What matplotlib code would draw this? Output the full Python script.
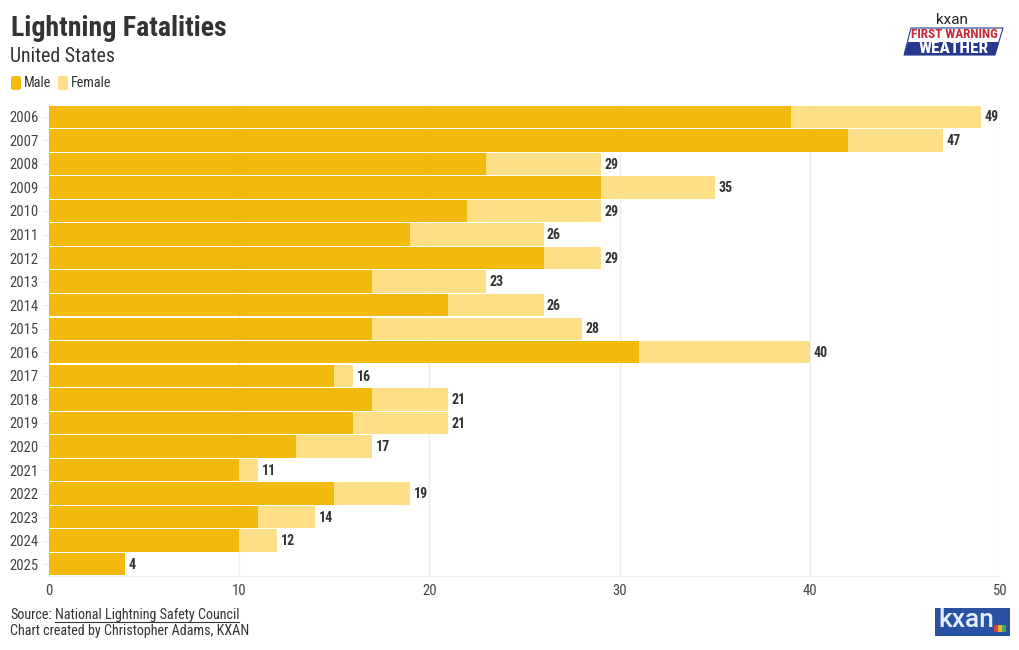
import matplotlib
matplotlib.use('Agg')
import matplotlib.pyplot as plt
from matplotlib.lines import Line2D
from matplotlib.patches import FancyBboxPatch, Polygon, Rectangle

years = ['2006', '2007', '2008', '2009', '2010', '2011', '2012', '2013', '2014', '2015',
         '2016', '2017', '2018', '2019', '2020', '2021', '2022', '2023', '2024', '2025']
male = [39, 42, 23, 29, 22, 19, 26, 17, 21, 17, 31, 15, 17, 16, 13, 10, 15, 11, 10, 4]
female = [10, 5, 6, 6, 7, 7, 3, 6, 5, 11, 9, 1, 4, 5, 4, 1, 4, 3, 2, 0]
totals = [49, 47, 29, 35, 29, 26, 29, 23, 26, 28, 40, 16, 21, 21, 17, 11, 19, 14, 12, 4]
x_ticks = [0, 10, 20, 30, 40, 50]

male_color = '#f2b90f'
female_color = '#fedf85'
text_color = '#333333'
grid_color = '#eeeeee'
kxan_blue = '#2a52a4'
W, H = 1020, 650

plt.rcParams['font.family'] = ['Roboto Condensed', 'Roboto', 'DejaVu Sans']

fig = plt.figure(figsize=(W / 100, H / 100), dpi=100, facecolor='white')


def px(x, y):
    # pixel position measured from the top left of the picture
    return x / W, 1 - y / H


left, top = px(49, 105)
right, bottom = px(1000, 576)
ax = fig.add_axes([left, bottom, right - left, top - bottom])

pos = list(range(len(years)))
ax.barh(pos, male, height=0.95, color=male_color, zorder=2)
ax.barh(pos, female, left=male, height=0.95, color=female_color, zorder=2)

for p, t in zip(pos, totals):
    ax.annotate(str(t), (t, p), xytext=(2.5, -0.5), textcoords='offset points', va='center',
                fontsize=10, fontweight='bold', color=text_color)

ax.set_xlim(0, 50)
ax.set_ylim(len(years) - 0.5, -0.5)
ax.set_xticks(x_ticks)
ax.set_yticks(pos)
ax.set_yticklabels(years)
ax.tick_params(axis='x', length=0, pad=6, labelsize=10.5, labelcolor='#444444')
ax.tick_params(axis='y', length=5, width=0.8, color=grid_color, pad=2.5, labelsize=10.5, labelcolor='#444444')
ax.grid(axis='x', color=grid_color, linewidth=1, zorder=0)
ax.set_axisbelow(True)
for side in ['top', 'right', 'left']:
    ax.spines[side].set_visible(False)
ax.spines['bottom'].set_color(grid_color)

# header
x, y = px(11, 29)
fig.text(x, y, 'Lightning Fatalities', fontsize=20.1, fontweight='bold', color=text_color, va='center')
x, y = px(10.5, 56.5)
fig.text(x, y, 'United States', fontsize=14.3, color=text_color, va='center')

# legend swatches and names
for sx, name, col, tx in [(11, 'Male', male_color, 24), (58, 'Female', female_color, 71)]:
    x0, y0 = px(sx, 90)
    fig.add_artist(FancyBboxPatch((x0, y0), 10 / W, 14 / H, boxstyle='round,pad=0,rounding_size=0.003',
                                  transform=fig.transFigure, facecolor=col, edgecolor='none'))
    x, y = px(tx, 83)
    fig.text(x, y, name, fontsize=10.2, color=text_color, va='center')

# footer
x, y = px(10.5, 615)
fig.text(x, y, 'Source:', fontsize=10.15, color=text_color, va='center')
link = fig.text(55 / W, y, 'National Lightning Safety Council', fontsize=10.15, color=text_color, va='center')
fig.canvas.draw()
box = link.get_window_extent()
fig.add_artist(Line2D([box.x0 / W, box.x1 / W], [px(0, 621.5)[1]] * 2, color=text_color, linewidth=0.8))
x, y = px(10.5, 631)
fig.text(x, y, 'Chart created by Christopher Adams, KXAN', fontsize=10.15, color=text_color, va='center')

# bottom right kxan logo
x0, y0 = px(935, 636)
fig.add_artist(Rectangle((x0, y0), 75 / W, 28 / H, transform=fig.transFigure, facecolor=kxan_blue, edgecolor='none'))
x, y = px(966, 620)
fig.text(x, y, 'kxan', fontsize=19, fontweight='medium', color='#e6eefa', ha='center', va='center',
         family=['Roboto', 'DejaVu Sans'])
for cx, col in [(996, '#d8453c'), (1000, '#e8b23a'), (1004, '#4aa564')]:
    x0, y0 = px(cx - 2, 632)
    fig.add_artist(Rectangle((x0, y0), 4 / W, 7 / H, transform=fig.transFigure, facecolor=col, edgecolor='none'))

# top right first warning weather logo
x, y = px(952, 20)
fig.text(x, y, 'kxan', fontsize=11, color='#222222', ha='center', va='center', family=['Roboto', 'DejaVu Sans'])
fig.add_artist(Polygon([px(911, 28), px(1003, 28), px(995, 55), px(904, 55)], closed=True, transform=fig.transFigure,
                       facecolor='white', edgecolor='#26398f', linewidth=0.8))
fig.add_artist(Polygon([px(908, 42), px(999, 42), px(995, 55), px(904, 55)], closed=True, transform=fig.transFigure,
                       facecolor='#26398f', edgecolor='none'))
x, y = px(954, 35)
fig.text(x, y, 'FIRST WARNING', fontsize=9.5, fontweight='bold', color='#c8283a', ha='center', va='center')
x, y = px(954, 48.5)
fig.text(x, y, 'WEATHER', fontsize=12.5, fontweight='bold', color='white', ha='center', va='center')

fig.savefig('out.png', dpi=100, facecolor='white')
